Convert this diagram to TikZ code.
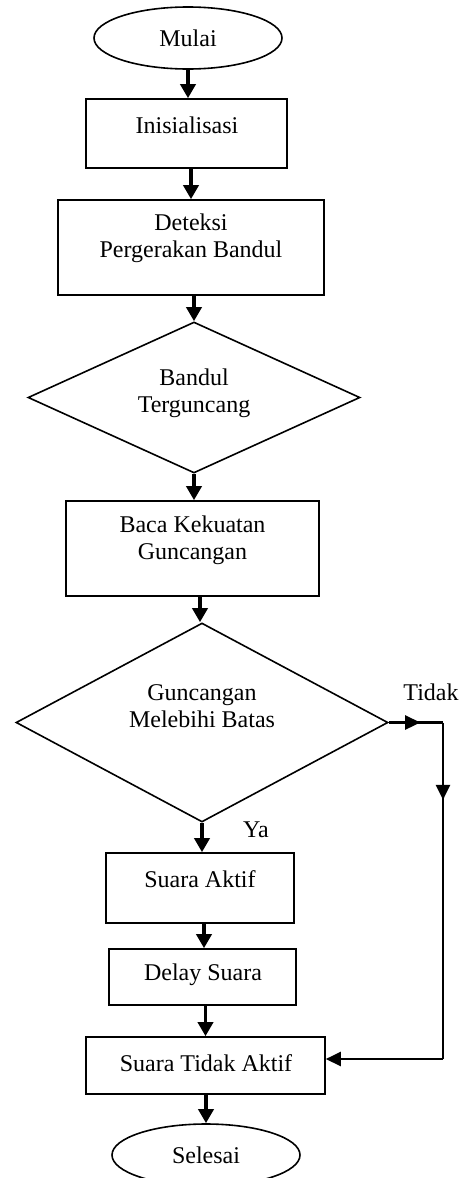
\documentclass[tikz,border=0pt]{standalone}
\usepackage{fontspec}
\setmainfont{Liberation Serif}
\usetikzlibrary{shapes.geometric,arrows.meta,decorations.markings}
\tikzset{
  boxnode/.style={draw, line width=0.8pt, rectangle, inner sep=0pt},
  termnode/.style={draw, line width=0.8pt, ellipse, inner sep=0pt, minimum width=94pt, minimum height=31pt},
  decnode/.style={draw, line width=0.8pt, diamond, inner sep=0pt},
  txt/.style={font=\fontsize{12pt}{13.5pt}\selectfont, align=center, inner sep=0pt},
  flowarr/.style={line width=1.8pt, -{Triangle[width=7.5pt,length=7pt]}},
  fbline/.style={line width=1.2pt},
  fbarr/.style={line width=1.2pt, postaction={decorate}, decoration={markings, mark=at position #1 with {\arrow{Triangle[width=7pt,length=7.5pt]}}}},
}
\begin{document}
\begin{tikzpicture}[x=0.5pt,y=-0.5pt]
\useasboundingbox (0,0) rectangle (465,1178);
\fill[white] (0,0) rectangle (465,1178);

% shapes
\node[termnode] (mulai) at (188,38) {};
\node[txt] (tmulai) at (188,38) {Mulai};

\node[boxnode, minimum width=100.5pt, minimum height=34.5pt] (b1) at (186.5,133.5) {};
\node[txt] (t1) at (187,125) {Inisialisasi};

\node[boxnode, minimum width=133pt, minimum height=47.5pt] (b2) at (191,247.5) {};
\node[txt] (t2) at (191,238.5) {Deteksi\\Pergerakan Bandul};

\node[decnode, minimum width=166pt, minimum height=75.5pt] (d1) at (194,397.5) {};
\node[txt] (t3) at (194,393) {Bandul\\Terguncang};

\node[boxnode, minimum width=126.5pt, minimum height=47.5pt] (b3) at (192.5,548.5) {};
\node[txt] (t4) at (192.5,540) {Baca Kekuatan\\Guncangan};

\node[decnode, minimum width=186pt, minimum height=99.5pt] (d2) at (202,722.5) {};
\node[txt] (t5) at (202,706.5) {Guncangan\\Melebihi Batas};

\node[boxnode, minimum width=94pt, minimum height=35pt] (b4) at (200,888) {};
\node[txt] (t6) at (200,879) {Suara Aktif};

\node[boxnode, minimum width=93.5pt, minimum height=28pt] (b5) at (202.5,977) {};
\node[txt] (t7) at (203,975) {Delay Suara};

\node[boxnode, minimum width=119.5pt, minimum height=28.5pt] (b6) at (205.5,1065.5) {};
\node[txt] (t8) at (206,1063) {Suara Tidak Aktif};

\node[termnode] (selesai) at (206,1155) {};
\node[txt] (tselesai) at (206,1155) {Selesai};

\node[txt] (lt) at (431,692) {Tidak};
\node[txt] (ly) at (256,830) {Ya};

% main flow
\draw[flowarr] (mulai.south) -- (mulai.south |- b1.north);
\draw[flowarr] (b2.north |- b1.south) -- (b2.north);
\draw[flowarr] (d1.north |- b2.south) -- (d1.north);
\draw[flowarr] (d1.south) -- (d1.south |- b3.north);
\draw[flowarr] (200,0 |- b3.south) -- (200,0 |- d2.north);
\draw[flowarr] (d2.south) -- (d2.south |- b4.north);
\draw[flowarr] (204,0 |- b4.south) -- (204,0 |- b5.north);
\draw[flowarr] (b6.north |- b5.south) -- (b6.north);
\draw[flowarr] (selesai.north |- b6.south) -- (selesai.north);

% feedback (Tidak)
\coordinate (c1) at (443,0 |- d2.east);
\coordinate (c2) at (443,1059);
\draw[fbarr=0.58] (d2.east) -- (c1);
\draw[fbarr=0.23] (c1) -- (c2);
\draw[fbline, -{Triangle[width=7pt,length=7.5pt]}] (c2) -- (b6.east |- c2);
\end{tikzpicture}
\end{document}
